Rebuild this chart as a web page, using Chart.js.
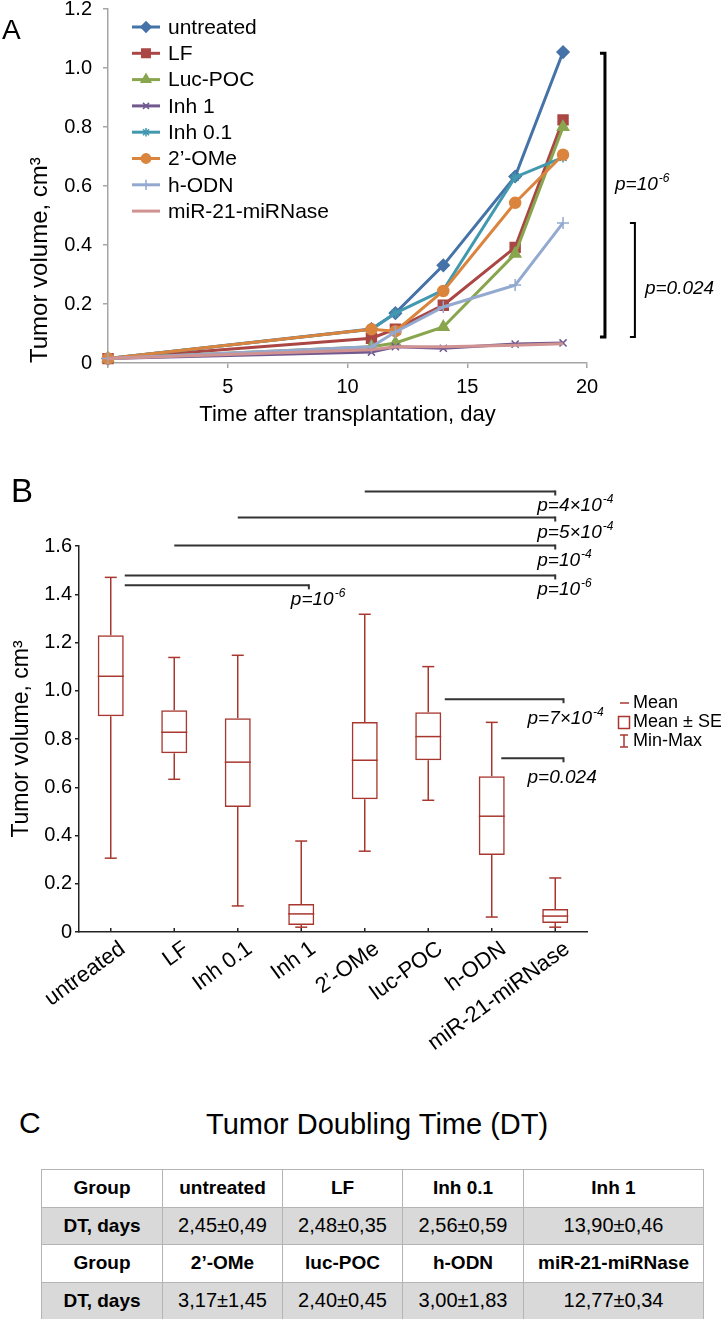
<!DOCTYPE html>
<html>
<head>
<meta charset="utf-8">
<script src="https://cdn.jsdelivr.net/npm/chart.js@4.4.1/dist/chart.umd.min.js"></script>
<style>
  body { margin: 0; background: #fff; font-family: "Liberation Sans", Arial, Helvetica, sans-serif; }
  #page { position: relative; width: 721px; height: 1319px; overflow: hidden; background: #fff; }
  #chartA { position: absolute; left: 0; top: 0; }
  #chartB { position: absolute; left: 0; top: 440px; }
  .letter { position: absolute; line-height: 1; color: #000; }
  #title { position: absolute; left: 206px; top: 1110px; font-size: 29px; line-height: 1; color: #000; }
  #dt { position: absolute; left: 41px; top: 1169px; width: 662px; border-collapse: collapse; table-layout: fixed; }
  #dt td, #dt th { border: 1px solid #b4b4b4; height: 36.5px; padding: 0; text-align: center; color: #000; }
  #dt th { font-weight: bold; font-size: 19px; }
  #dt td { font-size: 20px; }
  #dt tr.gray td, #dt tr.gray th { background: #d9d9d9; }
</style>
</head>
<body>
<div id="page">
  <canvas id="chartA" width="721" height="440"></canvas>
  <canvas id="chartB" width="721" height="650"></canvas>
  <div class="letter" style="left:2px; top:16px; font-size:28px;">A</div>
  <div class="letter" style="left:11px; top:474px; font-size:33px;">B</div>
  <div class="letter" style="left:19px; top:1108px; font-size:30px;">C</div>
  <div id="title">Tumor Doubling Time (DT)</div>
  <table id="dt">
    <colgroup><col style="width:121px"><col style="width:120px"><col style="width:120px"><col style="width:121px"><col style="width:180px"></colgroup>
    <tbody id="dtBody"></tbody>
  </table>
</div>
<script>
const FONT = '"Liberation Sans", Arial, Helvetica, sans-serif';
Chart.defaults.font.family = FONT;
Chart.defaults.color = '#000';

// ---- Panel A: tumor growth curves ----
const days = [0, 11, 12, 14, 17, 19];
const untreated = [0.015, 0.115, 0.169, 0.331, 0.632, 1.054];
const lf = [0.015, 0.084, 0.115, 0.196, 0.392, 0.824];
const lucPoc = [0.015, 0.055, 0.068, 0.122, 0.370, 0.800];
const inh1 = [0.015, 0.037, 0.055, 0.050, 0.064, 0.068];
const inh01 = [0.015, 0.114, 0.169, 0.247, 0.630, 0.697];
const ome = [0.015, 0.114, 0.108, 0.244, 0.543, 0.706];
const hOdn = [0.015, 0.055, 0.105, 0.190, 0.264, 0.475];
const mirNase = [0.015, 0.045, 0.055, 0.055, 0.060, 0.065];
const seriesNames = ['untreated', 'LF', 'Luc-POC', 'Inh 1', 'Inh 0.1', '2’-OMe', 'h-ODN', 'miR-21-miRNase'];
const seriesValues = [untreated, lf, lucPoc, inh1, inh01, ome, hOdn, mirNase];

// comparisons drawn as brackets at the right of panel A (day position, top, bottom)
const bracketDay = [20.75, 22];
const bracketTop = [1.05, 0.475];
const bracketBottom = [0.088, 0.088];
const bracketP = [['p=10', '-6'], ['p=0.024', '']];

// styles
const seriesColors = ['#4572a7', '#aa4643', '#89a54e', '#71588f', '#4198af', '#db843d', '#93a9cf', '#d19392'];
const seriesMarkers = ['rectRot', 'rect', 'triangle', 'crossRot', 'star', 'circle', 'cross', 'circle'];
const markerSizes = [6, 7, 6.5, 5, 5, 5.5, 6, 0];

// ---- Panel B: box plot ----
const groupsB = ['untreated', 'LF', 'Inh 0.1', 'Inh 1', '2’-OMe', 'luc-POC', 'h-ODN', 'miR-21-miRNase'];
const boxMin  = [0.306, 0.633, 0.108, 0.020, 0.335, 0.546, 0.062, 0.020];
const boxLow  = [0.894, 0.741, 0.518, 0.029, 0.550, 0.712, 0.319, 0.037];
const boxMean = [1.060, 0.828, 0.704, 0.075, 0.712, 0.810, 0.480, 0.066];
const boxHigh = [1.230, 0.919, 0.886, 0.116, 0.870, 0.911, 0.646, 0.095];
const boxMax  = [1.470, 1.138, 1.147, 0.377, 1.317, 1.100, 0.869, 0.224];

// significance lines: from / to (category index), level (cm3), p value
const sigFrom = [4, 2, 1, 0.22, 0.22, 5.26, 6.15];
const sigTo   = [7, 7, 7, 7, 3.12, 7.13, 7.13];
const sigAt   = [1.826, 1.718, 1.602, 1.478, 1.437, 0.965, 0.72];
const sigP    = [['p=4×10', '-4'], ['p=5×10', '-4'], ['p=10', '-4'], ['p=10', '-6'], ['p=10', '-6'], ['p=7×10', '-4'], ['p=0.024', '']];

// ---- Panel C: doubling time table ----
const dtGroups1 = ['untreated', 'LF', 'Inh 0.1', 'Inh 1'];
const dtValues1 = ['2,45±0,49', '2,48±0,35', '2,56±0,59', '13,90±0,46'];
const dtGroups2 = ['2’-OMe', 'luc-POC', 'h-ODN', 'miR-21-miRNase'];
const dtValues2 = ['3,17±1,45', '2,40±0,45', '3,00±1,83', '12,77±0,34'];

const BOX_COLOR = '#a8372f';

function pText(ctx, x, y, base, sup, size) {
  ctx.textAlign = 'left';
  ctx.textBaseline = 'alphabetic';
  ctx.fillStyle = '#000';
  ctx.font = 'italic ' + size + 'px ' + FONT;
  ctx.fillText(base, x, y);
  if (sup) {
    const w = ctx.measureText(base).width;
    ctx.font = 'italic ' + Math.round(size * 0.62) + 'px ' + FONT;
    ctx.fillText(sup, x + w + 1, y - size * 0.42);
  }
}

function fmtTick(v) { return v === 0 ? '0' : v.toFixed(1); }

// ---------- chart A ----------
const panelAPlugin = {
  id: 'panelA',
  afterDraw(chart) {
    const { ctx, scales: { x, y } } = chart;
    ctx.save();
    // legend
    chart.data.datasets.forEach((ds, i) => {
      const cy = 27 + i * 26.3;
      ctx.strokeStyle = ds.borderColor;
      ctx.lineWidth = 3;
      ctx.beginPath(); ctx.moveTo(132, cy); ctx.lineTo(160, cy); ctx.stroke();
      if (ds.pointRadius > 0) {
        ctx.fillStyle = ds.backgroundColor;
        ctx.lineWidth = 1.5;
        Chart.helpers.drawPoint(ctx, { pointStyle: ds.pointStyle, radius: ds.pointRadius * 0.85, rotation: 0, borderWidth: 1.5 }, 146, cy);
      }
      ctx.fillStyle = '#000';
      ctx.font = '21px ' + FONT;
      ctx.textAlign = 'left';
      ctx.textBaseline = 'middle';
      ctx.fillText(ds.label, 168, cy + 1);
    });
    // brackets
    bracketDay.forEach((d, i) => {
      const bx = x.getPixelForValue(d);
      const t = y.getPixelForValue(bracketTop[i]);
      const b = y.getPixelForValue(bracketBottom[i]);
      ctx.strokeStyle = '#000';
      ctx.lineWidth = i === 0 ? 3 : 2;
      ctx.beginPath();
      ctx.moveTo(bx - 5, t); ctx.lineTo(bx, t); ctx.lineTo(bx, b); ctx.lineTo(bx - 5, b);
      ctx.stroke();
      const mid = (t + b) / 2;
      pText(ctx, bx + 10, mid + (i === 0 ? -5 : 14), bracketP[i][0], bracketP[i][1], 19);
    });
    ctx.restore();
  }
};

new Chart(document.getElementById('chartA'), {
  type: 'line',
  data: {
    datasets: seriesNames.map((name, i) => ({
      label: name,
      data: days.map((d, k) => ({ x: d, y: seriesValues[i][k] })),
      borderColor: seriesColors[i],
      backgroundColor: seriesColors[i],
      pointBorderColor: seriesColors[i],
      pointStyle: seriesMarkers[i],
      pointRadius: markerSizes[i],
      pointBorderWidth: 1.5,
      borderWidth: 3,
      tension: 0,
      clip: false,
      order: seriesNames.length - i
    }))
  },
  options: {
    responsive: false,
    animation: false,
    devicePixelRatio: 1,
    layout: { padding: { top: 9, right: 134, left: 0, bottom: 0 } },
    plugins: { legend: { display: false }, tooltip: { enabled: false } },
    scales: {
      x: {
        type: 'linear', min: 0, max: 20,
        ticks: { stepSize: 5, font: { size: 20 }, color: '#000', padding: 7, callback: v => (v === 0 ? '' : v) },
        grid: { drawOnChartArea: false, tickLength: 5, color: '#a6a6a6', lineWidth: 1.5 },
        border: { color: '#a6a6a6', width: 1.5 },
        title: { display: true, text: 'Time after transplantation, day', font: { size: 22 }, color: '#000', padding: { top: 0, bottom: 12 } },
        afterFit: s => { s.height = 77; s.paddingLeft = 0; s.paddingRight = 0; }
      },
      y: {
        min: 0, max: 1.2,
        ticks: { stepSize: 0.2, font: { size: 20 }, color: '#000', padding: 11, callback: fmtTick },
        grid: { drawOnChartArea: false, tickLength: 5, color: '#a6a6a6', lineWidth: 1.5 },
        border: { color: '#a6a6a6', width: 1.5 },
        title: { display: true, text: 'Tumor volume, cm³', align: 'start', font: { size: 24 }, color: '#000', padding: { top: 26, bottom: 0 } },
        afterFit: s => { s.width = 108; s.paddingTop = 0; s.paddingBottom = 0; }
      }
    }
  },
  plugins: [panelAPlugin]
});

// ---------- chart B ----------
const panelBPlugin = {
  id: 'panelB',
  afterDatasetsDraw(chart) {
    const { ctx, scales: { x, y } } = chart;
    const bars = chart.getDatasetMeta(0).data;
    ctx.save();
    ctx.strokeStyle = BOX_COLOR;
    ctx.lineWidth = 1.5;
    const seg = (x1, y1, x2, y2) => { ctx.beginPath(); ctx.moveTo(x1, y1); ctx.lineTo(x2, y2); ctx.stroke(); };
    groupsB.forEach((g, i) => {
      const cx = x.getPixelForValue(i);
      const half = bars[i].width / 2;
      const yMax = y.getPixelForValue(boxMax[i]);
      const yMin = y.getPixelForValue(boxMin[i]);
      seg(cx, y.getPixelForValue(boxHigh[i]), cx, yMax);
      seg(cx - 6, yMax, cx + 6, yMax);
      seg(cx, y.getPixelForValue(boxLow[i]), cx, yMin);
      seg(cx - 6, yMin, cx + 6, yMin);
      const ym = y.getPixelForValue(boxMean[i]);
      seg(cx - half, ym, cx + half, ym);
    });
    ctx.restore();
  },
  afterDraw(chart) {
    const { ctx, scales: { x, y } } = chart;
    ctx.save();
    const seg = (x1, y1, x2, y2) => { ctx.beginPath(); ctx.moveTo(x1, y1); ctx.lineTo(x2, y2); ctx.stroke(); };
    // inward category ticks
    ctx.strokeStyle = '#222';
    ctx.lineWidth = 1.5;
    const y0 = y.getPixelForValue(0);
    groupsB.forEach((g, i) => { const cx = x.getPixelForValue(i); seg(cx, y0, cx, y0 - 4); });
    // significance lines
    ctx.strokeStyle = '#333';
    ctx.lineWidth = 2;
    sigAt.forEach((lvl, i) => {
      const ly = y.getPixelForValue(lvl);
      const x1 = x.getPixelForValue(sigFrom[i]);
      const x2 = x.getPixelForValue(sigTo[i]);
      seg(x1, ly, x2, ly);
      seg(x2, ly - 1, x2, ly + 4);
      const dx = i < 5 ? -18 : -36;
      const dy = i < 5 ? 20 : 25;
      pText(ctx, x2 + dx, ly + dy, sigP[i][0], sigP[i][1], 19);
    });
    // legend
    ctx.strokeStyle = BOX_COLOR;
    ctx.lineWidth = 1.5;
    seg(620, 263, 629, 263);
    ctx.strokeRect(618.5, 276.5, 11, 12);
    seg(624, 295, 624, 307);
    seg(620, 295, 628, 295);
    seg(620, 307, 628, 307);
    ctx.fillStyle = '#000';
    ctx.font = '18px ' + FONT;
    ctx.textAlign = 'left';
    ctx.textBaseline = 'middle';
    ctx.fillText('Mean', 633, 263);
    ctx.fillText('Mean ± SE', 633, 282);
    ctx.fillText('Min-Max', 633, 301);
    ctx.restore();
  }
};

new Chart(document.getElementById('chartB'), {
  type: 'bar',
  data: {
    labels: groupsB,
    datasets: [{
      label: 'Mean ± SE',
      data: boxLow.map((lo, i) => [lo, boxHigh[i]]),
      backgroundColor: 'rgba(255,255,255,0)',
      borderColor: BOX_COLOR,
      borderWidth: 1.5,
      borderSkipped: false,
      barPercentage: 0.41,
      categoryPercentage: 1
    }]
  },
  options: {
    responsive: false,
    animation: false,
    devicePixelRatio: 1,
    layout: { padding: { top: 106, right: 134, left: 0, bottom: 0 } },
    plugins: { legend: { display: false }, tooltip: { enabled: false } },
    scales: {
      x: {
        ticks: { font: { size: 22 }, color: '#000', minRotation: 36, maxRotation: 36, autoSkip: false, padding: 4, labelOffset: 12 },
        grid: { display: true, drawOnChartArea: false, drawTicks: false },
        border: { color: '#222', width: 1.5 },
        afterFit: s => { s.height = 158; s.paddingLeft = 0; s.paddingRight = 0; }
      },
      y: {
        min: 0, max: 1.6,
        ticks: { stepSize: 0.2, font: { size: 20 }, color: '#000', padding: 3, callback: fmtTick },
        grid: { drawOnChartArea: false, tickLength: 4, color: '#222', lineWidth: 1.5 },
        border: { color: '#222', width: 1.5 },
        title: { display: true, text: 'Tumor volume, cm³', font: { size: 23 }, color: '#000', padding: { top: 8, bottom: 0 } },
        afterFit: s => { s.width = 79; s.paddingTop = 0; s.paddingBottom = 0; }
      }
    }
  },
  plugins: [panelBPlugin]
});

// ---------- table C ----------
function row(head, cells, isHeader, gray) {
  const tr = document.createElement('tr');
  if (gray) tr.className = 'gray';
  const th = document.createElement('th');
  th.textContent = head;
  tr.appendChild(th);
  cells.forEach(c => {
    const cell = document.createElement(isHeader ? 'th' : 'td');
    cell.textContent = c;
    tr.appendChild(cell);
  });
  return tr;
}
const body = document.getElementById('dtBody');
body.appendChild(row('Group', dtGroups1, true, false));
body.appendChild(row('DT, days', dtValues1, false, true));
body.appendChild(row('Group', dtGroups2, true, false));
body.appendChild(row('DT, days', dtValues2, false, true));
</script>
</body>
</html>
